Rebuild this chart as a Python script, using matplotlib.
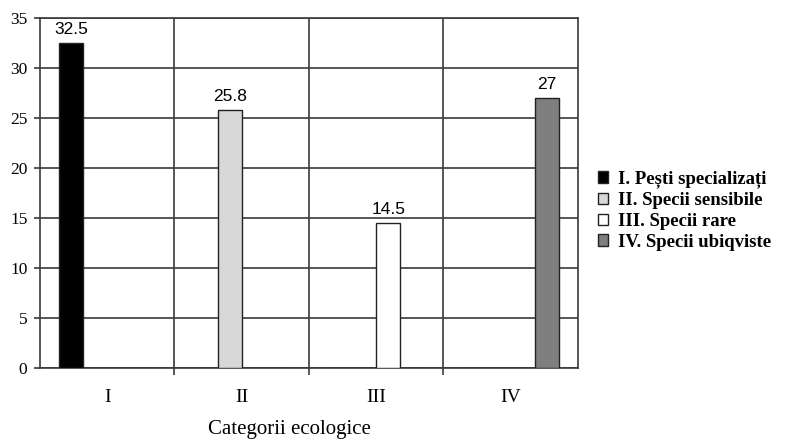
import numpy as np
import matplotlib
matplotlib.use('Agg')
import matplotlib.pyplot as plt
from matplotlib.patches import Patch

# Ecological categories on the x axis
categorii = ['I', 'II', 'III', 'IV']

# One series per category, values in %
specializati = [32.5, 0, 0, 0]
sensibile = [0, 25.8, 0, 0]
rare = [0, 0, 14.5, 0]
ubiqviste = [0, 0, 0, 27]

serii = [
    ('I. Pești specializați', specializati, '#000000'),
    ('II. Specii sensibile', sensibile, '#d8d8d8'),
    ('III. Specii rare', rare, '#ffffff'),
    ('IV. Specii ubiqviste', ubiqviste, '#7f7f7f'),
]

plt.rcParams['font.family'] = ['Liberation Serif', 'DejaVu Serif']
grid_col = '#3a3a3a'

fig = plt.figure(figsize=(7.98, 4.43), dpi=100)
ax = fig.add_axes([0.0501, 0.1693, 0.6742, 0.7901])

x = np.arange(len(categorii))
w = 0.18
for i, (name, vals, col) in enumerate(serii):
    pos = x + (i - 1.5) * w
    ax.bar(pos, vals, width=w, color=col, edgecolor='#222222', linewidth=1.0, zorder=3)
    for p, v in zip(pos, vals):
        if v:
            ax.text(p, v + 0.6, f'{v:g}', ha='center', va='bottom', fontsize=12.5,
                    family=['Liberation Sans', 'DejaVu Sans'], zorder=4)

ax.set_xlim(-0.5, 3.5)
ax.set_ylim(0, 35)
ax.set_yticks(np.arange(0, 36, 5))
ax.set_xticks(x)
ax.set_xticklabels(categorii, fontsize=14)
ax.set_xticks([0.5, 1.5, 2.5], minor=True)
ax.tick_params(axis='x', which='major', length=0, pad=15)
ax.tick_params(axis='x', which='minor', length=5, width=1.2, color=grid_col)
ax.tick_params(axis='y', length=4, width=1.2, color=grid_col, labelsize=12.5, pad=5)

ax.grid(True, axis='y', color=grid_col, linewidth=1.2, zorder=0)
ax.grid(True, axis='x', which='minor', color=grid_col, linewidth=1.2, zorder=0)
for s in ax.spines.values():
    s.set_color(grid_col)
    s.set_linewidth(1.2)

ax.set_xlabel('Categorii ecologice', fontsize=15)
ax.xaxis.set_label_coords(0.463, -0.148)

handles = [Patch(facecolor=col, edgecolor='#222222', linewidth=1.0, label=name)
           for name, _, col in serii]
fig.legend(handles=handles, loc='upper left', bbox_to_anchor=(0.728, 0.653),
           frameon=False, prop={'weight': 'bold', 'size': 13.5},
           handlelength=0.55, handleheight=0.55, handletextpad=0.5, labelspacing=0.2)

fig.savefig('out.png', dpi=100)
